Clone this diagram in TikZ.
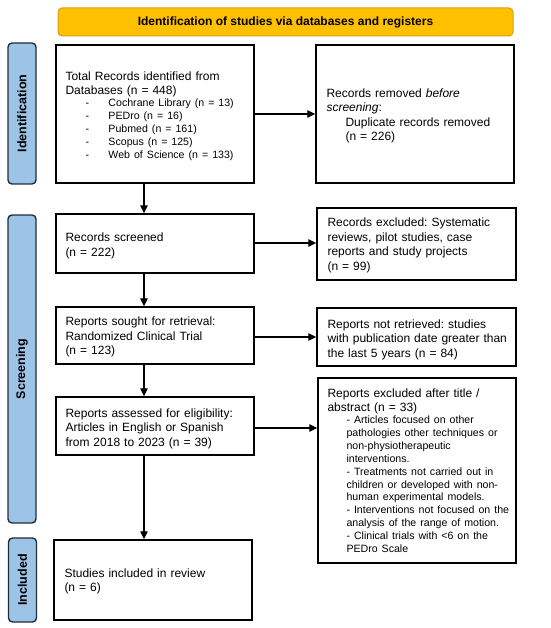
\documentclass[tikz,border=0pt]{standalone}
\usepackage{fontspec}
\setmainfont{Liberation Sans}
\frenchspacing
\usetikzlibrary{arrows.meta}
\definecolor{bannerfill}{HTML}{FFC000}
\definecolor{bannerline}{HTML}{D4A017}
\definecolor{sidefill}{HTML}{9DC3E6}
\definecolor{sideline}{HTML}{1F2D3D}
\tikzset{
  frame/.style={draw=black, line width=1.4pt, fill=white, inner sep=0pt},
  txt/.style={anchor=west, inner sep=0pt, align=left, text width=196pt, font=\fontsize{12}{14.5}\selectfont},
  sidenode/.style={draw=sideline, fill=sidefill, line width=1.4pt, rounded corners=4pt,
    font=\bfseries\fontsize{12.5}{14}\selectfont, rotate=90, inner sep=0pt},
  banner/.style={draw=bannerline, fill=bannerfill, line width=1pt, rounded corners=4pt,
    font=\bfseries\fontsize{12}{14}\selectfont, inner sep=0pt},
  flow/.style={-{Triangle[length=8pt,width=7.5pt]}, line width=1.3pt, black}
}
\newcommand{\litem}[1]{\hspace*{20pt}\makebox[23pt][l]{-}#1}
\newcommand{\sitem}[1]{\hspace*{19pt}#1}
\begin{document}
\begin{tikzpicture}[x=1pt,y=-1pt]
\useasboundingbox (0,0) rectangle (550,628);
% banner
\node[banner, minimum width=455pt, minimum height=28pt] (ban) at (285.5,22) {Identification of studies via databases and registers};
% side labels
\node[sidenode, minimum width=141pt, minimum height=28pt] (sid) at (22,113.5) {Identification};
\node[sidenode, minimum width=308pt, minimum height=28pt] (sscr) at (22,369) {Screening};
\node[sidenode, minimum width=84pt, minimum height=28pt] (sinc) at (22.5,580) {Included};
% boxes (frames)
\node[frame, minimum width=198pt, minimum height=138pt] (b1) at (155,114) {};
\node[frame, minimum width=198pt, minimum height=138pt] (b2) at (415,114) {};
\node[frame, minimum width=198pt, minimum height=59pt] (b3) at (155,243.5) {};
\node[frame, minimum width=199pt, minimum height=72pt] (b4) at (416.5,244) {};
\node[frame, minimum width=198pt, minimum height=57pt] (b5) at (155,335.5) {};
\node[frame, minimum width=199pt, minimum height=58pt] (b6) at (416.5,337) {};
\node[frame, minimum width=198pt, minimum height=58pt] (b7) at (155,426) {};
\node[frame, minimum width=198pt, minimum height=185pt] (b8) at (417,470.5) {};
\node[frame, minimum width=198pt, minimum height=80pt] (b9) at (153,580) {};
% texts
\node[txt] (t1) at ([xshift=10pt,yshift=-2pt]b1.west) {%
Total Records identified from\\
Databases (n = 448)\\[-1pt]
{\fontsize{10.6}{12.9}\selectfont
\litem{Cochrane Library (n = 13)}\\
\litem{PEDro (n = 16)}\\
\litem{Pubmed (n = 161)}\\
\litem{Scopus (n = 125)}\\
\litem{Web of Science (n = 133)}\par}};
\node[txt] (t2) at ([xshift=11pt,yshift=-2pt]b2.west) {%
Records removed \textit{before}\\
\textit{screening}:\\
\sitem{Duplicate records removed}\\
\sitem{(n = 226)}};
\node[txt] (t3) at ([xshift=10pt,yshift=-2.5pt]b3.west) {%
Records screened\\
(n = 222)};
\node[txt] (t4) at ([xshift=11pt,yshift=-1.5pt]b4.west) {%
Records excluded: Systematic\\
reviews, pilot studies, case\\
reports and study projects\\
(n = 99)};
\node[txt] (t5) at ([xshift=10pt,yshift=-1.5pt]b5.west) {%
Reports sought for retrieval:\\
Randomized Clinical Trial\\
(n = 123)};
\node[txt] (t6) at ([xshift=11pt,yshift=-2.5pt]b6.west) {%
Reports not retrieved: studies\\
with publication date greater than\\
the last 5 years (n = 84)};
\node[txt] (t7) at ([xshift=10pt,yshift=-2.5pt]b7.west) {%
Reports assessed for eligibility:\\
Articles in English or Spanish\\
from 2018 to 2023 (n = 39)};
\node[txt] (t8) at ([xshift=10pt,yshift=0pt]b8.west) {%
Reports excluded after title /\\
abstract (n = 33)\\[-1pt]
{\fontsize{10.6}{12.9}\selectfont
\sitem{- Articles focused on other}\\
\sitem{pathologies other techniques or}\\
\sitem{non-physiotherapeutic}\\
\sitem{interventions.}\\
\sitem{- Treatments not carried out in}\\
\sitem{children or developed with non-}\\
\sitem{human experimental models.}\\
\sitem{- Interventions not focused on the}\\
\sitem{analysis of the range of motion.}\\
\sitem{- Clinical trials with <6 on the}\\
\sitem{PEDro Scale}\par}};
\node[txt] (t9) at ([xshift=11pt,yshift=-1.5pt]b9.west) {%
Studies included in review\\
(n = 6)};
% connectors
\draw[flow] (b1.south -| 144,0) -- (b3.north -| 144,0);
\draw[flow] (b3.south -| 144,0) -- (b5.north -| 144,0);
\draw[flow] (b5.south -| 144,0) -- (b7.north -| 144,0);
\draw[flow] (b7.south -| 144,0) -- (b9.north -| 144,0);
\draw[flow] (b1.east |- 0,114) -- (b2.west |- 0,114);
\draw[flow] (b3.east |- 0,243) -- (b4.west |- 0,243);
\draw[flow] (b5.east |- 0,337) -- (b6.west |- 0,337);
\draw[flow] (b7.east |- 0,428) -- (b8.west |- 0,428);
\end{tikzpicture}
\end{document}
